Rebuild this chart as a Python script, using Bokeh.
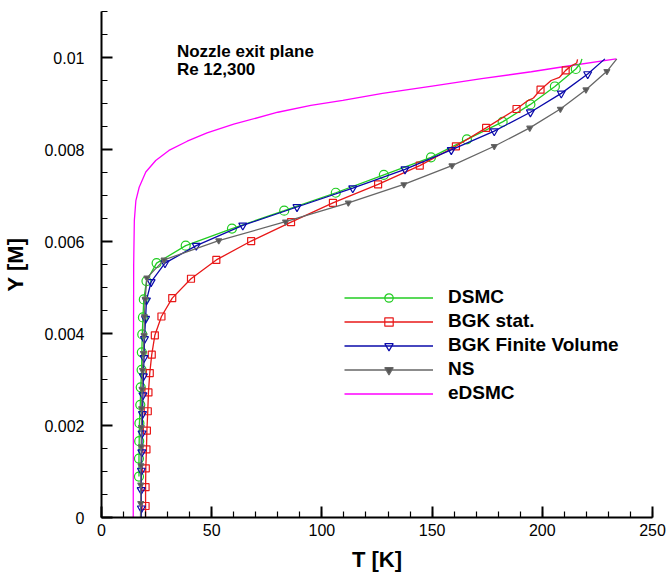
from bokeh.plotting import figure
from bokeh.models import (ColumnDataSource, CDSView, IndexFilter, Legend, LegendItem,
                          Range1d, FixedTicker, CustomJSTickFormatter, Label)
from bokeh.embed import file_html
from bokeh.resources import INLINE

# ---------------- data ----------------
X_TICKS = [0, 50, 100, 150, 200, 250]
X_MINOR = [v for v in range(0, 251, 10)]
Y_TICKS = [0, 0.002, 0.004, 0.006, 0.008, 0.01]
Y_MINOR = [0, 0.0005, 0.001, 0.0015, 0.002, 0.0025, 0.003, 0.0035, 0.004, 0.0045,
           0.005, 0.0055, 0.006, 0.0065, 0.007, 0.0075, 0.008, 0.0085, 0.009,
           0.0095, 0.01, 0.0105, 0.011]

DSMC_T = [17.0, 17.0, 17.1, 17.2, 17.6, 17.8, 18.2, 18.3, 18.5, 18.8, 19.2, 20.4, 25.0,
          38.2, 59.2, 82.9, 106.3, 128.1, 149.5, 165.8, 182.0, 194.6, 205.7, 215.2,
          217.4, 218.0]
DSMC_Y = [0.00089, 0.00128, 0.00166, 0.00205, 0.00245, 0.00283, 0.00321, 0.00359,
          0.00398, 0.00435, 0.00474, 0.00514, 0.00553, 0.00591, 0.00628, 0.00667,
          0.00706, 0.00745, 0.00783, 0.00822, 0.0086, 0.00898, 0.00937, 0.00975,
          0.00988, 0.00997]
DSMC_MARK = [1] * 24 + [0, 0]

BGK_T = [20.0, 20.0, 20.0, 20.1, 20.4, 20.6, 21.0, 21.3, 21.9, 22.8, 24.2, 27.2, 32.1,
         40.6, 52.1, 67.9, 86.0, 105.0, 125.5, 144.4, 160.8, 174.5, 188.3, 193.0,
         196.0, 199.2, 204.0, 207.8, 210.6, 213.2, 215.6, 216.0]
BGK_Y = [0.0, 0.00025, 0.00066, 0.00107, 0.00148, 0.00189, 0.00231, 0.00272, 0.00314,
         0.00354, 0.00396, 0.00437, 0.00477, 0.00519, 0.0056, 0.00601, 0.00642,
         0.00684, 0.00724, 0.00765, 0.00807, 0.00847, 0.00888, 0.00905, 0.00912,
         0.0093, 0.0095, 0.00957, 0.00972, 0.00982, 0.00988, 0.00996]
BGK_MARK = [0] + [1] * 22 + [0, 0, 1, 0, 0, 1, 0, 0, 0]

FV_T = [18.0, 18.1, 18.0, 18.1, 18.3, 18.4, 18.6, 18.8, 19.0, 19.3, 19.5, 20.0, 20.4,
        22.5, 28.8, 43.0, 64.1, 88.7, 114.0, 137.7, 158.7, 178.2, 194.6, 208.6,
        220.6, 228.4]
FV_Y = [0.0, 0.0002, 0.0006, 0.00102, 0.00142, 0.00183, 0.00225, 0.00266, 0.00307,
        0.00347, 0.00388, 0.00432, 0.00472, 0.00512, 0.00553, 0.00591, 0.00635,
        0.00675, 0.00716, 0.00757, 0.00799, 0.0084, 0.00881, 0.00922, 0.00964,
        0.00997]
FV_MARK = [0] + [1] * 24 + [0]

NS_T = [17.7, 17.8, 17.8, 17.9, 18.0, 18.1, 18.2, 18.4, 18.6, 19.0, 19.3, 19.5, 19.8,
        20.6, 28.4, 53.2, 83.5, 112.0, 137.2, 159.0, 178.2, 194.3, 208.2, 219.8,
        229.3, 233.8]
NS_Y = [0.0, 0.00031, 0.00071, 0.00113, 0.00154, 0.00196, 0.00237, 0.00279, 0.0032,
        0.00357, 0.00396, 0.00437, 0.00475, 0.00521, 0.0056, 0.00602, 0.00643,
        0.00684, 0.00724, 0.00765, 0.00807, 0.00847, 0.00888, 0.0093, 0.0097,
        0.00997]
NS_MARK = [0] + [1] * 24 + [0]

ED_T = [14.4, 14.5, 14.6, 14.9, 15.6, 17.1, 20.1, 24.6, 30.6, 38.9, 47.9, 60.0, 80.0,
        95.0, 109.5, 127.5, 150.0, 172.5, 195.0, 211.0, 233.5]
ED_Y = [0.0, 0.003, 0.0055, 0.00646, 0.00689, 0.00718, 0.00751, 0.00776, 0.00798,
        0.00818, 0.00836, 0.00855, 0.00881, 0.00896, 0.00907, 0.00922, 0.00938,
        0.00954, 0.00969, 0.00981, 0.00997]

FONT = "Liberation Sans"

p = figure(width=668, height=574, output_backend="svg", toolbar_location=None,
           x_range=Range1d(0, 250), y_range=Range1d(0, 0.011),
           min_border_left=97, min_border_right=16, min_border_top=11,
           min_border_bottom=57, background_fill_color="white")
p.outline_line_color = None
p.grid.visible = False

for ax in (p.xaxis[0], p.yaxis[0]):
    ax.axis_line_width = 2
    ax.axis_line_color = "black"
    ax.major_tick_in = 11
    ax.major_tick_out = 0
    ax.minor_tick_in = 6
    ax.minor_tick_out = 0
    ax.major_tick_line_width = 2
    ax.minor_tick_line_width = 1.2
    ax.major_label_text_font = FONT
    ax.major_label_text_font_size = "16px"
    ax.major_label_text_color = "black"
    ax.axis_label_text_font = FONT
    ax.axis_label_text_font_size = "22px"
    ax.axis_label_text_font_style = "bold"
    ax.axis_label_text_color = "black"

p.xaxis.ticker = FixedTicker(ticks=X_TICKS, minor_ticks=X_MINOR)
p.yaxis.ticker = FixedTicker(ticks=Y_TICKS, minor_ticks=Y_MINOR)
p.yaxis.formatter = CustomJSTickFormatter(code="return String(parseFloat(tick.toFixed(4)));")
p.xaxis.axis_label = "T [K]"
p.yaxis.axis_label = "Y [M]"
p.xaxis.major_label_standoff = 6
p.xaxis.axis_label_standoff = 8
p.yaxis.major_label_standoff = 17
p.yaxis.axis_label_standoff = 13


def series(T, Y, mark, color, marker=None, size=8, fill=None):
    src = ColumnDataSource(dict(x=T, y=Y))
    ln = p.line("x", "y", source=src, line_color=color, line_width=1.3)
    rs = [ln]
    if marker is not None:
        idx = [i for i, m in enumerate(mark) if m]
        view = CDSView(filter=IndexFilter(idx))
        sc = p.scatter("x", "y", source=src, view=view, marker=marker, size=size,
                       line_color=color, fill_color=fill, line_width=1.2)
        rs = [ln, sc]
    return rs


r_ed = series(ED_T, ED_Y, None, "#ff00ff")
r_dsmc = series(DSMC_T, DSMC_Y, DSMC_MARK, "#22cc22", "circle", 9, None)
r_bgk = series(BGK_T, BGK_Y, BGK_MARK, "#e81818", "square", 7, None)
r_fv = series(FV_T, FV_Y, FV_MARK, "#0a0aaa", "inverted_triangle", 8, None)
r_ns = series(NS_T, NS_Y, NS_MARK, "#666666", "inverted_triangle", 6, "#555555")

legend = Legend(items=[
    LegendItem(label="DSMC", renderers=r_dsmc),
    LegendItem(label="BGK stat.", renderers=r_bgk),
    LegendItem(label="BGK Finite Volume", renderers=r_fv),
    LegendItem(label="NS", renderers=r_ns),
    LegendItem(label="eDSMC", renderers=r_ed),
], location=(243, 113), glyph_width=89, glyph_height=21, label_height=21,
    label_standoff=15, spacing=2, padding=0, margin=0,
    border_line_color=None, background_fill_alpha=0,
    label_text_font=FONT, label_text_font_size="19px", label_text_font_style="bold",
    label_text_color="black")
p.add_layout(legend)

p.add_layout(Label(x=34.2, y=0.01012, text="Nozzle exit plane", text_font=FONT,
                   text_font_size="17px", text_font_style="bold", text_color="black",
                   text_baseline="alphabetic"))
p.add_layout(Label(x=34.2, y=0.00974, text="Re 12,300", text_font=FONT,
                   text_font_size="17px", text_font_style="bold", text_color="black",
                   text_baseline="alphabetic"))

open("out.html", "w").write(file_html(p, INLINE))
